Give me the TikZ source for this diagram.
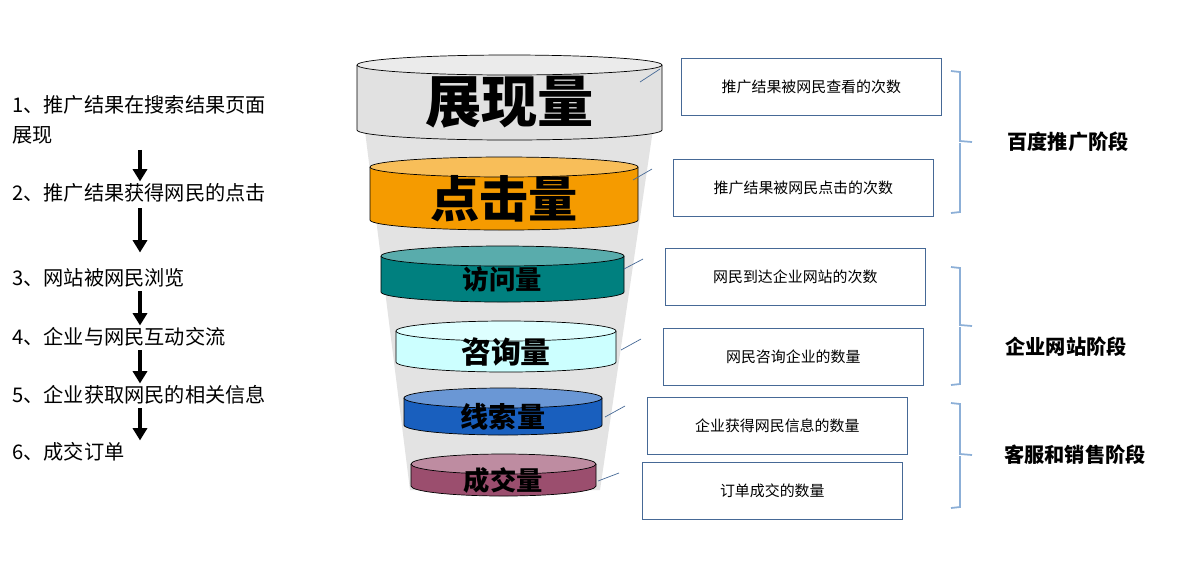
\documentclass[tikz,border=0pt]{standalone}
\usepackage{fontspec}
\setmainfont{Noto Sans CJK SC}
\usetikzlibrary{arrows.meta,calc,positioning}
\definecolor{frame}{RGB}{70,105,150}
\definecolor{brace}{RGB}{140,175,215}
\definecolor{greyc}{RGB}{225,225,225}
\definecolor{tealc}{RGB}{0,128,127}
\definecolor{bluec}{RGB}{25,95,190}
\definecolor{plumc}{RGB}{155,78,110}
\definecolor{orangec}{RGB}{245,155,0}
\definecolor{cyanc}{RGB}{204,255,255}
\tikzset{
  step text/.style={anchor=west, inner sep=0pt, align=left, font=\fontsize{11.5}{17}\selectfont},
  down/.style={line width=2.4pt, -{Triangle[width=8pt,length=7pt]}},
  infobox/.style={draw=frame, thin, minimum width=5.2cm, minimum height=1.14cm, font=\fontsize{8.5}{10}\selectfont},
  tick/.style={draw=frame, thin},
  stage/.style={font=\bfseries\fontsize{11.5}{14}\selectfont},
  bracket/.style={draw=brace, line width=1pt}
}
% #1 name, #2 centre x, #3 half width, #4 top y, #5 bottom y, #6 fill, #7 label
\newcommand\drum[7]{%
  \fill[#6] (#2-#3,#4) -- (#2-#3,#5) arc[start angle=180,end angle=360,x radius=#3,y radius=10] -- (#2+#3,#4) -- cycle;
  \draw (#2-#3,#4) -- (#2-#3,#5) arc[start angle=180,end angle=360,x radius=#3,y radius=10] -- (#2+#3,#4);
  \filldraw[fill=#6!65!white] (#2,#4) ellipse[x radius=#3,y radius=10];
  \node (#1) at (#2,{(#4+#5)/2-5}) {#7};}
\begin{document}
\begin{tikzpicture}[x=0.02cm,y=0.02cm]
\useasboundingbox (0,0) rectangle (1190,-566);
% funnel behind the drums
\fill[gray!22] (358,-75) -- (661,-75) -- (600,-490) -- (410,-490) -- cycle;
\drum{show}{509.5}{152.5}{-65}{-130}{greyc}{\bfseries\fontsize{32}{34}\selectfont 展现量}
\drum{click}{504}{134}{-167}{-220}{orangec}{\bfseries\fontsize{28}{30}\selectfont 点击量}
\drum{visit}{502.5}{121.5}{-256}{-292}{tealc}{\bfseries\fontsize{15}{17}\selectfont 访问量}
\drum{ask}{506}{110}{-331}{-362}{cyanc}{\bfseries\fontsize{17}{19}\selectfont 咨询量}
\drum{lead}{503}{99}{-398}{-425}{bluec}{\bfseries\fontsize{16}{18}\selectfont 线索量}
\drum{deal}{503.5}{92.5}{-464}{-486}{plumc}{\bfseries\fontsize{15}{17}\selectfont 成交量}
% left steps
\node[step text] (s1) at (12,-120) {1、推广结果在搜索结果页面\\展现};
\node[step text] (s2) at (12,-193) {2、推广结果获得网民的点击};
\node[step text] (s3) at (12,-278) {3、网站被网民浏览};
\node[step text] (s4) at (12,-337) {4、企业与网民互动交流};
\node[step text] (s5) at (12,-395) {5、企业获取网民的相关信息};
\node[step text] (s6) at (12,-452) {6、成交订单};
\coordinate (ax) at (140,0);
\draw[down, shorten <=3pt, shorten >=1pt] (s1.south -| ax) -- (s2.north -| ax);
\draw[down, shorten <=3pt, shorten >=9pt] (s2.south -| ax) -- (s3.north -| ax);
\draw[down, shorten <=2pt, shorten >=1pt] (s3.south -| ax) -- (s4.north -| ax);
\draw[down, shorten <=2pt, shorten >=1pt] (s4.south -| ax) -- (s5.north -| ax);
\draw[down, shorten <=2pt, shorten >=1pt] (s5.south -| ax) -- (s6.north -| ax);
% right boxes
\node[infobox, anchor=north west] (b1) at (681,-58) {推广结果被网民查看的次数};
\node[infobox, anchor=north west] (b2) at (673,-159) {推广结果被网民点击的次数};
\node[infobox, anchor=north west] (b3) at (665,-248) {网民到达企业网站的次数};
\node[infobox, anchor=north west] (b4) at (663,-328) {网民咨询企业的数量};
\node[infobox, anchor=north west] (b5) at (647,-397) {企业获得网民信息的数量};
\node[infobox, anchor=north west] (b6) at (642,-462) {订单成交的数量};
% short ticks
\coordinate (t1) at (640,-82); \coordinate (u1) at (660,-69);
\coordinate (t2) at (633,-180); \coordinate (u2) at (652,-169);
\coordinate (t3) at (624,-269); \coordinate (u3) at (643,-259);
\coordinate (t4) at (621,-350); \coordinate (u4) at (641,-339);
\coordinate (t5) at (605,-417); \coordinate (u5) at (625,-406);
\coordinate (t6) at (598,-481); \coordinate (u6) at (619,-473);
\foreach \i in {1,...,6} \draw[tick] (t\i) -- (u\i);
% stage brackets
\draw[bracket] (951,-71) -- (960,-72) -- (960,-141) -- (972,-142) (960,-143) -- (960,-212) -- (951,-213);
\draw[bracket] (951,-267) -- (960,-268) -- (960,-325) -- (972,-326) (960,-327) -- (960,-384) -- (951,-385);
\draw[bracket] (951,-403) -- (960,-404) -- (960,-454) -- (972,-455) (960,-456) -- (960,-507) -- (951,-508);
\node[stage] (g1) at (1068,-142) {百度推广阶段};
\node[stage] (g2) at (1066,-347) {企业网站阶段};
\node[stage] (g3) at (1075,-455) {客服和销售阶段};
\end{tikzpicture}
\end{document}
